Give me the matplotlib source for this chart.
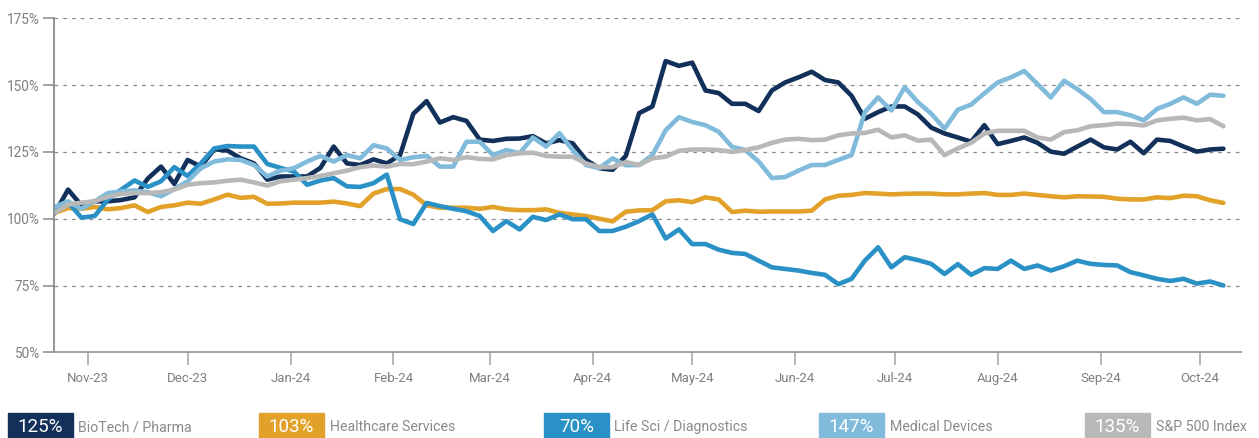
import matplotlib
matplotlib.use("Agg")
import matplotlib.pyplot as plt
import matplotlib.dates as mdates
import matplotlib.patches as mpatches
from matplotlib import font_manager
import pandas as pd

# every 4th calendar day, Oct-22-2023 .. Oct-08-2024
dates = pd.date_range("2023-10-22", periods=89, freq="4D")

biotech = [102, 110.9, 105, 106.5, 106.5, 107, 108, 115, 119.5, 113,
           122, 119.5, 126, 125.5, 122.6, 120.7, 114.6, 115.8, 115.8, 115.8,
           119, 127, 120.7, 120.1, 122.2, 120.7, 123.8, 139.3, 144, 136,
           138, 136.6, 129.6, 129.1, 129.9, 130, 130.9, 128.2, 129.4, 128.2,
           122, 118.9, 118.3, 123.5, 139.5, 142, 159, 157.2, 158.4, 148,
           147, 143, 143, 140.3, 148, 151, 152.9, 155, 151.9, 151,
           146, 137.4, 139.9, 142, 142, 139, 134.1, 131.9, 130.4, 128.8,
           135, 127.9, 129.1, 130.4, 128.4, 125.1, 124.3, 127, 129.6, 126.7,
           125.9, 128.8, 124.5, 129.6, 129.1, 127, 125.1, 125.9, 126.2]

healthcare = [102.2, 104, 103.7, 104.4, 103.5, 104, 105, 102.5, 104.4, 105,
              106, 105.6, 107.2, 109, 107.8, 108.2, 105.6, 105.7, 106, 106,
              106, 106.4, 105.7, 104.7, 109.4, 111.1, 111.1, 109, 105, 104.1,
              104.1, 104.1, 103.7, 104.4, 103.5, 103.2, 103.2, 103.5, 102.2, 101.6,
              101, 100, 99, 102.6, 103.1, 103.2, 106.5, 106.9, 106.2, 108,
              107.2, 102.5, 103, 102.6, 102.7, 102.7, 102.7, 103, 107.2, 108.6,
              108.9, 109.6, 109.4, 109.1, 109.3, 109.4, 109.4, 109.1, 109.1, 109.4,
              109.6, 108.9, 108.9, 109.4, 108.9, 108.4, 108, 108.4, 108.3, 108.2,
              107.5, 107.2, 107.2, 108, 107.7, 108.6, 108.4, 106.9, 105.9]

lifesci = [103, 106.2, 100.4, 101, 107.2, 110.9, 114.3, 111.9, 114, 119.3,
           116, 120.7, 126.3, 127.2, 127, 127, 120.5, 119, 117.7, 112.7,
           114.3, 115.2, 112.1, 111.9, 113.3, 116.5, 99.8, 98, 105.9, 104.7,
           103.7, 102.8, 101, 95.4, 99.1, 96, 100.7, 99.5, 101.6, 99.8,
           99.8, 95.4, 95.4, 97, 99.1, 101.6, 92.6, 96, 90.5, 90.5,
           88.4, 87.2, 86.8, 84.3, 81.8, 81.2, 80.6, 79.7, 79, 75.5,
           77.5, 84.3, 89.3, 81.8, 85.6, 84.5, 83.1, 79.3, 83, 79,
           81.5, 81.2, 84.3, 81.2, 82.5, 80.6, 82.2, 84.3, 83.1, 82.7,
           82.5, 80, 78.8, 77.5, 76.7, 77.5, 75.7, 76.5, 75]

meddevices = [104.4, 106.5, 103.7, 106.5, 109.6, 110.2, 110.6, 109.9, 108.4, 111.1,
              114, 118.9, 121.4, 122.2, 122, 120.1, 115.8, 118, 118.9, 121.4,
              123.5, 121.4, 123.8, 122.6, 127.5, 126.3, 122, 123, 123.5, 119.5,
              119.5, 128.8, 128.8, 123.8, 125.7, 124.5, 130.4, 127, 132, 125.7,
              120.1, 118.9, 122.6, 120, 120.1, 123.8, 133.1, 138, 136.2, 135,
              132.5, 126.9, 125.7, 121.4, 115.2, 115.6, 118, 120.1, 120.1, 122,
              123.8, 139.9, 145.4, 140.5, 149.2, 143.6, 139.3, 133.7, 140.8, 142.7,
              146.9, 151, 152.9, 155.3, 150.4, 145.4, 151.6, 148.5, 144.8, 139.9,
              139.9, 138.7, 136.8, 141.1, 143, 145.4, 143, 146.4, 146]

sp500 = [102.2, 105.3, 106, 106.5, 108.2, 109.3, 109.6, 109.6, 109.9, 110.9,
         112.7, 113.3, 113.6, 114.2, 114.6, 113.6, 112.4, 114, 114.6, 115.2,
         116, 117, 118, 119.3, 119.9, 119.5, 120.5, 120.4, 121.4, 122.6,
         122, 123, 122.4, 122.2, 123.8, 124.5, 124.7, 123.5, 123.2, 123.2,
         120.7, 119.3, 119.3, 121.2, 120.1, 122.6, 123.2, 125.4, 125.9, 125.9,
         125.7, 125, 125.7, 126.7, 128.4, 129.6, 129.9, 129.4, 129.6, 131.2,
         131.9, 132.1, 133.3, 130.4, 131.2, 129.2, 129.6, 123.8, 126.3, 128.4,
         131.9, 132.9, 132.9, 132.9, 130.4, 129.6, 132.4, 133.1, 134.6, 135,
         135.6, 135.4, 134.9, 136.8, 137.4, 137.8, 136.8, 137.3, 134.6]

names = ["BioTech / Pharma", "Healthcare Services", "Life Sci / Diagnostics",
         "Medical Devices", "S&P 500 Index"]
legend_pct = ["125%", "103%", "70%", "147%", "135%"]
colors = ["#12305a", "#e2a229", "#2a91c6", "#80bbdc", "#b8b8b8"]
series = [biotech, healthcare, lifesci, meddevices, sp500]

yticks = [50, 75, 100, 125, 150, 175]

installed = {f.name for f in font_manager.fontManager.ttflist}
fam = "Liberation Sans Narrow" if "Liberation Sans Narrow" in installed else "Roboto"
plt.rcParams["font.family"] = [fam, "DejaVu Sans"]

W, H = 1259, 438
fig = plt.figure(figsize=(W / 100, H / 100), dpi=100)
ax = fig.add_axes([54 / W, 1 - 352.3 / H, (1241 - 54) / W, (352.3 - 18.3) / H])

for vals, c in zip(series, colors):
    ax.plot(dates, vals, color=c, lw=3.3, solid_joinstyle="round",
            solid_capstyle="round")

nov1 = mdates.date2num(pd.Timestamp("2023-11-01"))
ax.set_xlim(nov1 - 10.24, nov1 + 347.3)
ax.set_ylim(50, 175)
ax.set_yticks(yticks)
ax.set_yticklabels([f"{v}%" for v in yticks])
ax.xaxis.set_major_locator(mdates.MonthLocator())
ax.xaxis.set_major_formatter(mdates.DateFormatter("%b-%y"))

for v in yticks[1:]:
    ax.axhline(v, color="#8c8c8c", lw=0.9, ls=(0, (3, 4)), zorder=0)

for s in ["top", "right"]:
    ax.spines[s].set_visible(False)
ax.spines["left"].set_color("#8a8a8a")
ax.spines["left"].set_linewidth(1.3)
ax.spines["bottom"].set_color("#9a9a9a")
ax.spines["bottom"].set_linewidth(1.3)
ax.tick_params(axis="y", length=8, width=1.3, color="#9a9a9a", pad=2,
               labelsize=9.8, labelcolor="#7f7f7f")
ax.tick_params(axis="x", length=9, width=1.3, color="#b0b0b0", pad=5,
               labelsize=9.5, labelcolor="#7f7f7f")

# legend strip along the bottom edge
box_x = [8, 259, 544, 819, 1085]
box_w = 64.5
for x0, pct, name, c in zip(box_x, legend_pct, names, colors):
    fig.patches.append(mpatches.Rectangle((x0 / W, -0.02), box_w / W,
                                          (438 - 413) / H + 0.02,
                                          transform=fig.transFigure,
                                          color=c, zorder=1))
    fig.text((x0 + box_w / 2) / W, (438 - 427) / H, pct, color="white",
             fontsize=13.5, ha="center", va="center", zorder=2)
    fig.text((x0 + box_w + 6) / W, (438 - 427) / H, name, color="#8a8a8a",
             fontsize=10.2, ha="left", va="center")

fig.savefig("out.png", dpi=100)
